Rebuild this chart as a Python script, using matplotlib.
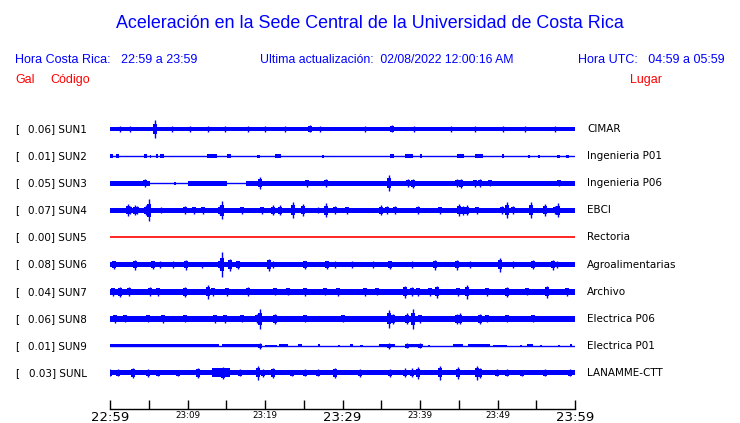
import matplotlib
matplotlib.use("Agg")
import matplotlib.pyplot as plt
import matplotlib.transforms as mtransforms

# station info (top to bottom)
codes = ["SUN1", "SUN2", "SUN3", "SUN4", "SUN5", "SUN6", "SUN7", "SUN8", "SUN9", "SUNL"]
gal = [0.06, 0.01, 0.05, 0.07, 0.00, 0.08, 0.04, 0.06, 0.01, 0.03]
places = ["CIMAR", "Ingenieria P01", "Ingenieria P06", "EBCI", "Rectoria",
          "Agroalimentarias", "Archivo", "Electrica P06", "Electrica P01", "LANAMME-CTT"]

# time axis: minutes after 22:59
tick_min = [0, 10, 20, 30, 40, 50, 60]
tick_lab = ["22:59", "23:09", "23:19", "23:29", "23:39", "23:49", "23:59"]

# trace envelopes: (start_min, end_min, half-amplitude px)
bands_sun1 = [(0, 60, 2.0)]
bands_sun2 = [(0.0, 0.4, 2), (0.8, 1.2, 2), (4.4, 4.8, 2), (5.1, 5.3, 1.5), (5.9, 6.2, 2),
              (6.5, 7.0, 2), (12.5, 13.8, 2), (15.1, 15.6, 2), (19.0, 19.3, 1.5),
              (21.3, 22.1, 2), (27.3, 27.6, 1.5), (36.1, 36.6, 2), (38.1, 39.1, 2),
              (40.0, 40.3, 2), (44.8, 45.7, 2), (47.1, 48.1, 2), (50.6, 50.9, 2),
              (53.9, 54.2, 1.5), (55.2, 55.5, 1.5), (57.7, 58.0, 1.5), (58.9, 59.2, 1.5)]
bands_sun3 = [(0, 5.2, 2.5), (8.3, 8.5, 1.5), (10.1, 15.1, 2.5), (17.6, 60, 2.5)]
bands_sun4 = [(0, 60, 2.5)]
bands_sun5 = []
bands_sun6 = [(0, 60, 2.5)]
bands_sun7 = [(0, 60, 3.0)]
bands_sun8 = [(0, 60, 3.0)]
bands_sun9 = [(0, 14.0, 1.5), (14.5, 19.5, 1.5), (20.0, 21.5, 1.3), (21.8, 23.0, 1.5),
              (24.3, 24.8, 1.5), (26.8, 27.1, 1.5), (29.4, 29.7, 1.3), (31.0, 31.3, 1.5),
              (32.3, 32.7, 1.3), (34.7, 36.8, 1.5), (38.3, 40.4, 1.5), (41.0, 41.3, 1.3),
              (44.3, 45.6, 1.5), (46.2, 49.0, 1.5), (49.4, 51.2, 1.3), (52.9, 53.2, 1.3),
              (53.8, 54.6, 1.5), (55.5, 55.8, 1.3), (57.8, 58.1, 1.3), (59.3, 59.6, 1.5)]
bands_sunl = [(0, 60, 2.5), (13.2, 15.5, 4.5)]

# bursts / spikes: (minute, half-amplitude px)
spk_sun1 = [(5.81, 9), (1.29, 3), (2.58, 3), (8.0, 3), (10.32, 3), (12.65, 3), (14.84, 3),
            (17.81, 3), (20.0, 3), (22.58, 3), (25.81, 3.5), (27.1, 3), (32.9, 3),
            (36.39, 3.5), (39.23, 3), (44.0, 3), (47.1, 3), (50.71, 3), (53.55, 3), (57.42, 3)]
spk_sun2 = []
spk_sun3 = [(4.52, 4), (19.35, 6), (25.42, 3.5), (27.87, 4), (36.0, 8), (38.45, 4),
            (39.1, 4.5), (44.77, 4), (45.29, 4.5), (47.1, 3.5), (47.74, 4), (49.03, 3),
            (57.94, 3)]
spk_sun4 = [(2.32, 6), (2.58, 4), (3.23, 5), (3.48, 4), (4.65, 5), (5.03, 11), (6.58, 3),
            (9.68, 4), (10.84, 3.5), (12.0, 3.5), (14.19, 5), (14.45, 9), (17.03, 3.5),
            (19.61, 3.5), (21.03, 5), (21.94, 5), (23.61, 8), (24.9, 6), (26.84, 3),
            (27.87, 7), (29.03, 4), (30.58, 3.5), (34.97, 5), (35.74, 4), (36.77, 4),
            (39.74, 4), (42.58, 3.5), (45.03, 6), (45.55, 4.5), (46.06, 5), (47.35, 3.5),
            (50.58, 4), (51.23, 8), (52.0, 4), (54.32, 8), (56.13, 6), (57.42, 4), (57.81, 7)]
spk_sun5 = []
spk_sun6 = [(0.52, 4), (3.23, 5), (5.55, 4), (6.45, 3.5), (8.13, 3.5), (9.81, 5),
            (11.87, 3), (14.19, 4), (14.45, 12), (15.48, 6), (16.52, 4), (20.52, 6),
            (21.03, 3.5), (25.16, 4), (28.0, 4), (29.03, 3.5), (31.23, 3.5), (33.94, 3.5),
            (36.13, 4), (38.97, 3.5), (41.94, 5), (44.77, 5), (46.45, 3.5), (50.32, 7),
            (52.0, 3.5), (54.58, 4.5), (57.16, 5), (57.68, 3.5)]
spk_sun7 = [(0.39, 4), (1.29, 5), (2.45, 4.5), (5.16, 4.5), (6.19, 4), (9.68, 5),
            (12.65, 7), (13.29, 4), (15.1, 4), (17.81, 4.5), (21.29, 3.5), (22.97, 3.5),
            (25.16, 4), (27.74, 3.5), (29.42, 4), (32.9, 4), (34.45, 3.5), (38.06, 6),
            (38.97, 4.5), (39.74, 4), (41.29, 4), (42.19, 6), (44.9, 4), (46.06, 7),
            (48.65, 4), (51.23, 5), (53.81, 3.5), (56.39, 6), (58.97, 4)]
spk_sun8 = [(0.65, 4), (1.94, 3.5), (4.9, 3.5), (6.84, 4), (9.68, 3.5), (13.55, 4),
            (14.84, 4), (17.03, 3.5), (18.97, 4.5), (19.35, 10), (21.29, 5), (25.16, 3.5),
            (30.06, 3.5), (36.0, 9), (36.52, 5), (38.32, 5.5), (39.1, 10), (40.0, 4),
            (44.77, 5), (45.16, 5.5), (47.74, 5), (48.65, 3.5), (51.23, 3.5), (54.58, 3.5)]
spk_sun9 = [(19.35, 3), (36.0, 3), (38.32, 2.5), (40.0, 2.5)]
spk_sunl = [(0.0, 3.5), (1.03, 3.5), (2.97, 5), (4.9, 4), (6.19, 3), (8.77, 3),
            (11.35, 5), (14.58, 6), (16.77, 3.5), (19.1, 7), (19.74, 4), (21.03, 5),
            (23.48, 3), (25.16, 3.5), (26.84, 3.5), (29.03, 5), (32.26, 4), (36.13, 4),
            (38.06, 4.5), (38.97, 4.5), (39.74, 6), (42.58, 7), (44.9, 6), (47.35, 7),
            (47.74, 5), (49.94, 3.5), (51.23, 3.5), (53.16, 3), (56.13, 3.5), (59.35, 3.5)]

bands = [bands_sun1, bands_sun2, bands_sun3, bands_sun4, bands_sun5,
         bands_sun6, bands_sun7, bands_sun8, bands_sun9, bands_sunl]
spikes = [spk_sun1, spk_sun2, spk_sun3, spk_sun4, spk_sun5,
          spk_sun6, spk_sun7, spk_sun8, spk_sun9, spk_sunl]

BLUE = "#0000ff"
RED = "#ff0000"
PX = 27.1  # px per trace slot


def main():
    fig = plt.figure(figsize=(7.4, 4.23), dpi=100)
    W, H = 740.0, 423.0
    # axes: x 110..575 px, y 115..409 px
    ax = fig.add_axes([110 / W, 1 - 409 / H, 465 / W, 294 / H])
    ax.set_xlim(0, 60)
    ax.set_ylim((409 - 129) / PX, (115 - 129) / PX)

    for i in range(len(codes)):
        col = RED if gal[i] == 0 else BLUE
        ax.plot([0, 60], [i, i], color=col, lw=1.2 if gal[i] == 0 else 1.0,
                solid_capstyle="butt")
        for (a, b, h) in bands[i]:
            ax.fill_between([a, b], i - h / PX, i + h / PX, color=col, lw=0)
        for (m, h) in spikes[i]:
            base = max([hh for (a, b, hh) in bands[i] if a <= m <= b] + [0.5])
            mid = base + (h - base) * 0.45
            ax.fill_between([m - 0.22, m + 0.22], i - mid / PX, i + mid / PX, color=col, lw=0)
            ax.vlines(m, i - h / PX, i + h / PX, color=col, lw=1.0)

    # station labels
    tr = mtransforms.blended_transform_factory(fig.transFigure, ax.transData)
    for i in range(len(codes)):
        ax.text(15 / W, i, "[", transform=tr, fontsize=7.5, va="center",
                family="DejaVu Sans")
        ax.text(87 / W, i, "%.2f] %s" % (gal[i], codes[i]), transform=tr, fontsize=7.5,
                va="center", ha="right", family="DejaVu Sans")
        ax.text(587 / W, i, places[i], transform=tr, fontsize=7.5, va="center",
                family="DejaVu Sans")

    # time axis
    for s in ["top", "left", "right"]:
        ax.spines[s].set_visible(False)
    ax.spines["bottom"].set_linewidth(1.0)
    ax.set_yticks([])
    ax.set_xticks(list(range(0, 61, 5)))
    labels = []
    for t in range(0, 61, 5):
        labels.append(tick_lab[tick_min.index(t)] if t in tick_min else "")
    ax.set_xticklabels(labels, family="DejaVu Sans")
    for t, lab in zip(range(0, 61, 5), ax.get_xticklabels()):
        lab.set_fontsize(9.5 if t % 30 == 0 else 6.3)
    ax.tick_params(axis="x", direction="in", length=6.5, width=1.0, pad=1.5)

    # header texts
    hf = "Liberation Sans"
    fig.text(0.5, 1 - 23 / H, "Aceleración en la Sede Central de la Universidad de Costa Rica",
             ha="center", va="center", color=BLUE, fontsize=12.9, family=hf)
    fig.text(15 / W, 1 - 60 / H, "Hora Costa Rica:   22:59 a 23:59", va="center",
             color=BLUE, fontsize=9, family=hf)
    fig.text(260 / W, 1 - 60 / H, "Ultima actualización:  02/08/2022 12:00:16 AM",
             va="center", color=BLUE, fontsize=8.8, family=hf)
    fig.text(725 / W, 1 - 60 / H, "Hora UTC:   04:59 a 05:59", va="center", ha="right",
             color=BLUE, fontsize=9, family=hf)
    fig.text(15 / W, 1 - 80 / H, "Gal", va="center", color=RED, fontsize=9, family=hf)
    fig.text(50 / W, 1 - 80 / H, "Código", va="center", color=RED, fontsize=9, family=hf)
    fig.text(662 / W, 1 - 80 / H, "Lugar", va="center", ha="right", color=RED,
             fontsize=9, family=hf)

    fig.savefig("out.png", dpi=100)


if __name__ == '__main__':
    main()
